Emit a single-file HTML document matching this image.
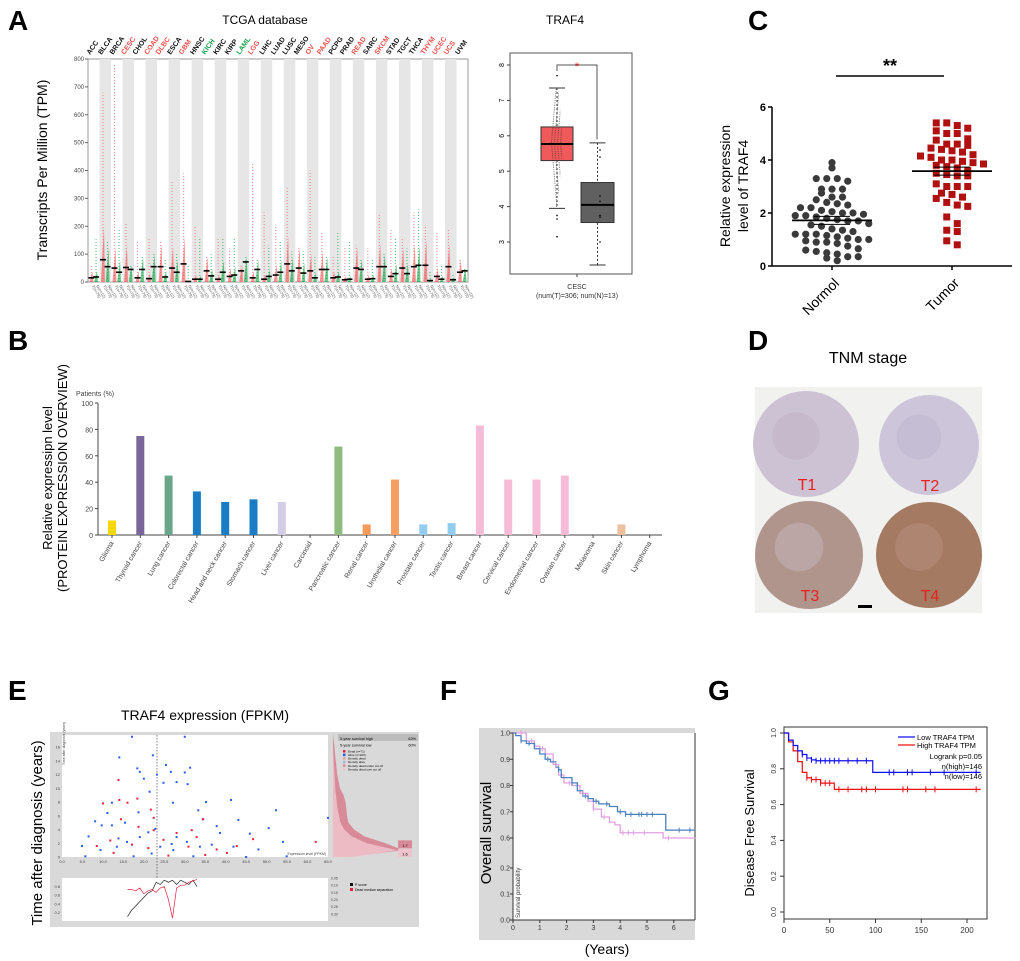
<!DOCTYPE html>
<html><head><meta charset="utf-8">
<style>
html,body{margin:0;padding:0;background:#fff;}
svg{display:block;font-family:"Liberation Sans",Arial,sans-serif;}
</style></head>
<body>
<svg id="fig" width="1020" height="961" viewBox="0 0 1020 961" xmlns="http://www.w3.org/2000/svg">
<g font-weight="bold" font-size="28" fill="#000">
<text x="8" y="30">A</text>
<text x="8" y="350">B</text>
<text x="748" y="30">C</text>
<text x="748" y="350">D</text>
<text x="8" y="700">E</text>
<text x="440" y="700">F</text>
<text x="708" y="700">G</text>
</g>
<g id="pa"></g>
<g id="pa2"></g>
<g id="pb"></g>
<g id="pc"></g>
<g id="pd"></g>
<g id="pe"></g>
<g id="pf"></g>
<g id="pg"></g>
</svg>
<script>
// ---------- data ----------
const cancerTypes=["ACC","BLCA","BRCA","CESC","CHOL","COAD","DLBC","ESCA","GBM","HNSC","KICH","KIRC","KIRP","LAML","LGG","LIHC","LUAD","LUSC","MESO","OV","PAAD","PCPG","PRAD","READ","SARC","SKCM","STAD","TGCT","THCA","THYM","UCEC","UCS","UVM"];
const cancerColors=["k","k","k","r","k","r","r","k","r","k","g","k","k","g","r","k","k","k","k","r","r","k","k","r","k","r","k","k","k","r","r","r","k"];
const tumorMedian=[15,80,50,52,15,12,55,50,65,10,40,10,20,40,15,10,25,65,50,40,45,15,8,50,10,55,20,50,55,60,20,55,35];
const normalMedian=[18,55,35,45,45,55,18,35,2,10,22,35,25,72,45,20,35,40,32,15,45,18,10,45,12,55,30,30,60,5,10,8,40];
const tumorMax=[60,680,780,210,150,160,150,360,390,200,90,160,120,60,430,250,200,340,130,400,180,90,130,130,120,240,190,160,250,200,180,190,80];
const normalMax=[160,150,190,60,90,100,80,100,60,160,100,160,160,90,80,130,150,110,110,90,90,180,150,80,80,100,160,120,260,40,60,30,50];
const aTicks=[0,100,200,300,400,500,600,700,800];
const boxTumor={lo:3.95,q1:5.3,med:5.77,q3:6.25,hi:7.35};
const boxNormal={lo:2.35,q1:3.55,med:4.05,q3:4.68,hi:5.8};
const tumorOutliers=[3.15,3.65,3.75,7.7];
const normalPoints=[5.4,4.3,4.15,3.75,3.7,5.6,3.0];
const boxTicks=[3,4,5,6,7,8];

const bCategories=["Glioma","Thyroid cancer","Lung cancer","Colorectal cancer","Head and neck cancer","Stomach cancer","Liver cancer","Carcinoid","Pancreatic cancer","Renal cancer","Urothelial cancer","Prostate cancer","Testis cancer","Breast cancer","Cervical cancer","Endometrial cancer","Ovarian cancer","Melanoma","Skin cancer","Lymphoma"];
const bValues=[11,75,45,33,25,27,25,0,67,8,42,8,9,83,42,42,45,0,8,0];
const bColors=["#f5d800","#7b6699","#6aa58a","#1a7cc4","#1a7cc4","#1a7cc4","#d2cce6","#ccc","#8dbb80","#f59a5a","#f5a060","#92cdee","#92cdee","#f6bcd7","#f6bcd7","#f6bcd7","#f6bcd7","#ccc","#edc0a0","#ccc"];
const bTicks=[0,20,40,60,80,100];

const cNormal=[3.9,3.7,3.3,3.3,3.3,3.2,2.9,2.9,2.9,2.75,2.6,2.6,2.5,2.4,2.35,2.3,2.2,2.2,2.1,2.05,2.0,2.0,1.95,1.9,1.9,1.85,1.8,1.75,1.7,1.7,1.6,1.55,1.5,1.4,1.35,1.3,1.2,1.2,1.2,1.15,1.1,1.05,1.0,1.0,0.95,0.9,0.9,0.85,0.75,0.65,0.6,0.55,0.5,0.45,0.35,0.35,0.3,0.2];
const cTumor=[5.4,5.4,5.3,5.2,5.1,5.0,5.0,4.8,4.75,4.6,4.6,4.55,4.45,4.4,4.35,4.3,4.2,4.15,4.1,4.0,4.0,3.95,3.9,3.85,3.8,3.75,3.7,3.6,3.5,3.45,3.4,3.4,3.1,3.0,3.0,3.0,2.75,2.7,2.6,2.55,2.4,2.3,2.25,1.85,1.6,1.35,1.3,0.95,0.8];
const cTicks=[0,2,4,6];

const eAliveExpr=[17.1,30,22.2,14,25.4,31.3,18.4,19,26.6,30,23.2,20,24.8,28,30.7,21.4,41.3,35.2,27.1,12.2,52.3,33.3,11.1,18.7,65,43.1,8.1,34.4,15.4,9.7,50.5,22.8,37.8,12.2,45.9,38.6,6.5,19,28,54,4.9,41.9,48,33.7,13.4,24,15.9,30.5,9.4,27.2,21.9,45,54.9,5.7,17.5,32.1,13.8,21.1,26.8,36.6];
const eAliveTime=[17.5,17.5,14.8,14.5,13.4,13,12.9,12.4,12.4,12.3,12,11.4,10.8,10.9,10.6,9.5,8.3,8,7.9,7.9,6.8,6.8,6.4,6.5,5.7,5.4,5.2,5.5,5,4.6,4.2,4.1,4.5,4.6,3.4,3.5,3,2.9,2.9,2.2,1.6,1.5,1.1,1.5,1.5,1.5,2.2,2.2,1,1,0.5,0,0.1,0.1,0.1,0.1,2.7,3.6,1.9,1.8];
const eDeadExpr=[13.8,10,14,18.4,16,21.7,14.4,22.4,34.5,18.7,28,32.9,46.7,62,42.7,8.5,11.8,24.8,37.8,40.3,21.1,17.1,30.9,12.6,26,35,22.4,31.7];
const eDeadTime=[11.2,7.8,8.3,8.5,7.9,6.9,5.5,5.7,5.5,4.4,3.5,2.9,2.6,2.2,1.6,1.6,2.4,2.5,1.1,0.6,1.3,1.8,1.5,0.6,0.2,0.3,3.9,3.9];
const eXTicks=[0,5,10,15,20,25,30,35,40,45,50,55,60,65];
const eYTicks=[0,2,4,6,8,10,12,14,16];
const ePExpr=[16,17,18,19,20,21,22,23,24,25,26,27,28,29,30,31,32,33];
const ePScore=[0.1,0.25,0.35,0.45,0.55,0.65,0.7,0.9,0.85,0.95,0.9,0.95,0.85,0.95,0.9,0.85,0.95,0.8];
const eMedSep=[0.13,0.13,0.14,0.12,0.16,0.14,0.13,0.15,0.12,0.11,0.2,0.33,0.12,0.1,0.1,0.08,0.07,0.06];
const densTimes=[0,1,2,3,4,5,6,7,8,9,10,12,14,16,18];
const densDead=[0.2,1.0,0.75,0.45,0.3,0.22,0.2,0.19,0.18,0.15,0.1,0.06,0.04,0.02,0];
const densOver=[0.3,0.85,0.45,0.25,0.15,0.1,0.08,0.06,0.05,0.04,0.03,0.02,0.01,0,0];

const fBlueT=[0,0.1,0.3,0.5,0.8,1.0,1.2,1.4,1.6,1.7,1.8,2.0,2.2,2.4,2.6,2.8,3.0,3.2,3.6,3.9,4.2,5.0,5.6,5.7,6.8];
const fBlueS=[1,0.99,0.97,0.96,0.94,0.92,0.9,0.89,0.87,0.86,0.83,0.83,0.81,0.78,0.76,0.75,0.74,0.73,0.72,0.7,0.69,0.69,0.69,0.63,0.63];
const fPinkT=[0,0.2,0.5,0.8,1.0,1.2,1.5,1.7,1.9,2.2,2.5,2.8,3.0,3.3,3.6,3.8,4.0,4.5,5.5,5.6,6.8];
const fPinkS=[1,1,0.97,0.95,0.94,0.92,0.88,0.84,0.81,0.8,0.77,0.74,0.71,0.68,0.66,0.65,0.62,0.62,0.62,0.6,0.6];
const fBlueCens=[0.3,0.6,1.3,1.7,2.2,2.7,3.1,3.5,4.0,4.2,4.4,4.7,4.8,5.0,5.2,6.2,6.6];
const fPinkCens=[0.3,0.7,1.1,1.6,2.1,2.6,3.0,3.4,4.1,4.3,4.5,4.9,5.8];
const fYTicks=[0.0,0.1,0.2,0.6,0.7,0.8,0.9,1.0];
const fXTicks=[0,1,2,3,4,5,6];

const gLowT=[0,5,10,15,20,25,30,35,97,215];
const gLowS=[1,0.96,0.93,0.9,0.88,0.86,0.85,0.845,0.78,0.78];
const gHighT=[0,5,10,15,20,25,30,40,55,215];
const gHighS=[1,0.95,0.9,0.84,0.78,0.75,0.74,0.72,0.685,0.685];
const gLowCens=[20,25,30,35,40,45,50,55,60,70,80,90,115,120,135,140,160,175,210];
const gHighCens=[25,30,35,40,45,50,60,70,85,90,100,130,135,155,165,210];
const gXTicks=[0,50,100,150,200];
const gYTicks=[0,0.2,0.4,0.6,0.8,1.0];

// ---------- helpers ----------
const NS="http://www.w3.org/2000/svg";
function mk(tag,attrs,parent,txt){const e=document.createElementNS(NS,tag);for(const k in attrs)e.setAttribute(k,attrs[k]);if(txt!==undefined)e.textContent=txt;parent.appendChild(e);return e;}
function stepPath(ts,ss,fx,fy){let d="M"+fx(ts[0])+","+fy(ss[0]);for(let i=1;i<ts.length;i++){d+=" H"+fx(ts[i])+" V"+fy(ss[i]);}return d;}
function survAt(ts,ss,t){let s=ss[0];for(let i=0;i<ts.length;i++){if(ts[i]<=t)s=ss[i];}return s;}

// ---------- Panel A ----------
(function(){
const g=document.getElementById('pa');
const X0=88,X1=468,Y0=282,Y1=59;
const w=(X1-X0)/cancerTypes.length;
const y=v=>Y0-(v/800)*(Y0-Y1);
let t=mk('text',{x:265,y:24,'font-size':12,'text-anchor':'middle'},g,'TCGA database');


let yl=mk('text',{x:0,y:0,'font-size':14,'text-anchor':'middle',transform:'translate(47,170) rotate(-90)'},g,'Transcripts Per Million (TPM)');


mk('rect',{x:X0,y:Y1,width:X1-X0,height:Y0-Y1,fill:'#fff',stroke:'#999'},g);
cancerTypes.forEach((c,i)=>{
 const cx=X0+i*w;
 if(i%2===1){const b=mk('rect',{x:cx,y:Y1,width:w,height:Y0-Y1,fill:'#e6e6e6'},g);}
 const col=cancerColors[i]==='r'?'#f0504a':cancerColors[i]==='g'?'#1aa04a':'#111';
 const lab=mk('text',{x:0,y:0,'font-size':7,'font-weight':'bold',fill:col,transform:`translate(${cx+2},${Y1-4}) rotate(-55)`},g,c);
 
 
 const tx=cx+w*0.3, nx=cx+w*0.7;
 const tl=mk('line',{x1:tx,x2:tx,y1:Y0,y2:y(tumorMax[i]),stroke:'#f07070','stroke-width':1.2,'stroke-dasharray':'1 2',opacity:0.7},g);
 
 
 mk('path',{d:`M${tx-2},${Y0} L${tx+2},${Y0} L${tx+1},${y(Math.min(tumorMax[i],tumorMedian[i]*2.5))} Z`,fill:'#f05050',opacity:0.6},g);
 const nl=mk('line',{x1:nx,x2:nx,y1:Y0,y2:y(normalMax[i]),stroke:'#20b050','stroke-width':1.2,'stroke-dasharray':'1 2',opacity:0.7},g);
 
 
 mk('path',{d:`M${nx-2},${Y0} L${nx+2},${Y0} L${nx+1},${y(Math.min(normalMax[i],normalMedian[i]*2.2))} Z`,fill:'#10a040',opacity:0.6},g);
 const tm=mk('line',{x1:tx-3,x2:tx+3,y1:y(tumorMedian[i]),y2:y(tumorMedian[i]),stroke:'#000','stroke-width':1.6},g);
 
 
 const nm=mk('line',{x1:nx-3,x2:nx+3,y1:y(normalMedian[i]),y2:y(normalMedian[i]),stroke:'#000','stroke-width':1.6},g);
 
 
 mk('text',{x:0,y:0,'font-size':4,fill:'#555',transform:`translate(${tx},${Y0+4}) rotate(60)`},g,'T(n=79)');
 mk('text',{x:0,y:0,'font-size':4,fill:'#555',transform:`translate(${nx},${Y0+4}) rotate(60)`},g,'N(n=12)');
});
aTicks.forEach(v=>{mk('line',{x1:X0-3,x2:X0,y1:y(v),y2:y(v),stroke:'#666'},g);const tk=mk('text',{x:X0-4,y:y(v)+2,'font-size':6,'text-anchor':'end',fill:'#444'},g,v);});
})();

// ---------- Panel A box ----------
(function(){
const g=document.getElementById('pa2');
const X0=510,X1=632,Y0=274,Y1=53;
const y=v=>65+(8-v)*35.4;
let t=mk('text',{x:565,y:24,'font-size':12,'text-anchor':'middle'},g,'TRAF4');


mk('rect',{x:X0,y:Y1,width:X1-X0,height:Y0-Y1,fill:'#fff',stroke:'#555'},g);
boxTicks.forEach(v=>{mk('line',{x1:X0-3,x2:X0,y1:y(v),y2:y(v),stroke:'#444'},g);mk('text',{x:0,y:0,'font-size':7,'text-anchor':'middle',transform:`translate(${X0-6},${y(v)}) rotate(-90)`},g,v);});
function box(b,x0,x1,fill,name){
 const cx=(x0+x1)/2;
 mk('line',{x1:cx,x2:cx,y1:y(b.hi),y2:y(b.lo),stroke:'#333','stroke-dasharray':'2 2'},g);
 mk('line',{x1:cx-8,x2:cx+8,y1:y(b.hi),y2:y(b.hi),stroke:'#333'},g);
 mk('line',{x1:cx-8,x2:cx+8,y1:y(b.lo),y2:y(b.lo),stroke:'#333'},g);
 const r=mk('rect',{x:x0,y:y(b.q3),width:x1-x0,height:y(b.q1)-y(b.q3),fill:fill,stroke:'#333'},g);
 
 
 mk('line',{x1:x0,x2:x1,y1:y(b.med),y2:y(b.med),stroke:'#000','stroke-width':2},g);
}
box(boxTumor,541,573,'#f05a5a','tumor-box');
box(boxNormal,581,614,'#606060','normal-box');
for(let v=4.0;v<=7.3;v+=0.05){const d=Math.abs(v-5.8);const wdt=Math.max(2,12-d*6);mk('line',{x1:557-wdt/2,x2:557+wdt/2,y1:y(v),y2:y(v),stroke:'#222','stroke-width':0.7,'stroke-dasharray':'1 2',opacity:0.7},g);}
tumorOutliers.forEach(v=>mk('circle',{cx:557,cy:y(v),r:0.8,fill:'#000'},g));
normalPoints.forEach(v=>mk('circle',{cx:600,cy:y(v),r:0.8,fill:'#000'},g));
mk('path',{d:`M557,${y(8)+6} V${y(8)} H597 V${y(5.9)}`,fill:'none',stroke:'#555'},g);
let s=mk('text',{x:577,y:y(8)+5,'font-size':11,fill:'#e02020','text-anchor':'middle'},g,'*');


mk('line',{x1:577,x2:577,y1:Y0,y2:Y0+3,stroke:'#444'},g);
let l1=mk('text',{x:577,y:289,'font-size':7,'text-anchor':'middle',fill:'#333'},g,'CESC');


mk('text',{x:577,y:298,'font-size':7,'text-anchor':'middle',fill:'#333'},g,'(num(T)=306; num(N)=13)');
})();

// ---------- Panel B ----------
(function(){
const g=document.getElementById('pb');
const X0=98,Y0=535,Y1=403,step=28.3,first=112;
const y=v=>Y0-(v/100)*(Y0-Y1);
let t=mk('text',{x:0,y:0,'font-size':13,'text-anchor':'middle',transform:'translate(52,478) rotate(-90)'},g,'Relative expressipn level');


mk('text',{x:0,y:0,'font-size':13,'text-anchor':'middle',transform:'translate(67,478) rotate(-90)'},g,'(PROTEIN EXPRESSION OVERVIEW)');
mk('text',{x:76,y:396,'font-size':7,fill:'#444'},g,'Patients (%)');
mk('line',{x1:X0,x2:X0,y1:Y1,y2:Y0,stroke:'#444'},g);
mk('line',{x1:X0,x2:662,y1:Y0,y2:Y0,stroke:'#444'},g);
bTicks.forEach(v=>{mk('line',{x1:X0-3,x2:X0,y1:y(v),y2:y(v),stroke:'#444'},g);const tk=mk('text',{x:X0-5,y:y(v)+3,'font-size':7,'text-anchor':'end',fill:'#444'},g,v);});
bCategories.forEach((c,i)=>{
 const cx=first+i*step;
 if(bValues[i]>0){const r=mk('rect',{x:cx-4,y:y(bValues[i]),width:8,height:Y0-y(bValues[i]),fill:bColors[i]},g);}
 mk('line',{x1:cx,x2:cx,y1:Y0,y2:Y0+3,stroke:'#444'},g);
 const l=mk('text',{x:0,y:0,'font-size':7,'text-anchor':'end',fill:'#444',transform:`translate(${cx+2},${Y0+8}) rotate(-60)`},g,c);
 
 
});
})();

// ---------- Panel C ----------
(function(){
const g=document.getElementById('pc');
const X0=772,X1=1012,Y0=266,Y1=107;
const y=v=>Y0-(v/6)*(Y0-Y1);
mk('line',{x1:X0,x2:X0,y1:Y1,y2:Y0,stroke:'#000','stroke-width':1.5},g);
mk('line',{x1:X0,x2:X1,y1:Y0,y2:Y0,stroke:'#000','stroke-width':1.5},g);
cTicks.forEach(v=>{mk('line',{x1:X0-4,x2:X0,y1:y(v),y2:y(v),stroke:'#000','stroke-width':1.5},g);const tk=mk('text',{x:X0-6,y:y(v)+4,'font-size':11,'font-weight':'bold','text-anchor':'end'},g,v);});
let t1=mk('text',{x:0,y:0,'font-size':14,'text-anchor':'middle',transform:'translate(730,186) rotate(-90)'},g,'Relative expression');


mk('text',{x:0,y:0,'font-size':14,'text-anchor':'middle',transform:'translate(748,186) rotate(-90)'},g,'level of TRAF4');
function swarm(vals,cx,color,shape,name){
 const bins={};
 vals.forEach(v=>{const k=Math.floor(v/0.32);(bins[k]=bins[k]||[]).push(v);});
 Object.keys(bins).forEach(k=>{
  const arr=bins[k];const n=arr.length;
  arr.forEach((v,i)=>{
   const px=cx+(i-(n-1)/2)*10.5,py=y(v);
   let m;
   if(shape==='c')m=mk('circle',{cx:px,cy:py,r:3.6,fill:color},g);
   else m=mk('rect',{x:px-3.5,y:py-3.5,width:7,height:7,fill:color},g);
   
   
  });
 });
 const mean=vals.reduce((a,b)=>a+b,0)/vals.length;
 const ml=mk('line',{x1:cx-40,x2:cx+40,y1:y(mean),y2:y(mean),stroke:'#000','stroke-width':1.8},g);
 
 
 mk('line',{x1:cx-18,x2:cx+18,y1:y(mean)-4,y2:y(mean)-4,stroke:'#000','stroke-width':1},g);
 mk('line',{x1:cx-18,x2:cx+18,y1:y(mean)+4,y2:y(mean)+4,stroke:'#000','stroke-width':1},g);
}
swarm(cNormal,832,'#3a3a3a','c','normal-point');
swarm(cTumor,952,'#b01010','s','tumor-point');
[[832,'Normol'],[952,'Tumor']].forEach(([x,s])=>{mk('line',{x1:x,x2:x,y1:Y0,y2:Y0+4,stroke:'#000','stroke-width':1.5},g);const l=mk('text',{x:0,y:0,'font-size':14,'text-anchor':'end',transform:`translate(${x+8},${Y0+18}) rotate(-45)`},g,s);});
mk('line',{x1:836,x2:944,y1:76,y2:76,stroke:'#000','stroke-width':1.5},g);
let st=mk('text',{x:890,y:72,'font-size':18,'font-weight':'bold','text-anchor':'middle'},g,'**');


})();

// ---------- Panel D ----------
(function(){
const g=document.getElementById('pd');
let t=mk('text',{x:868,y:363,'font-size':16,'text-anchor':'middle'},g,'TNM stage');


mk('rect',{x:755,y:387,width:227,height:226,fill:'#f1f1f0'},g);
const cores=[[806,444,53,'#cdc2d3','#bfb0c4','T1'],[929,445,50,'#cdc6da','#bdb4cc','T2'],[809,555,54,'#b0958d','#c5b6bd','T3'],[929,555,53,'#a57a62','#b89080','T4']];
cores.forEach(c=>{
 const ci=mk('circle',{cx:c[0],cy:c[1],r:c[2],fill:c[3]},g);
 
 
 mk('circle',{cx:c[0]-10,cy:c[1]-8,r:c[2]*0.45,fill:c[4],opacity:0.5},g);
 const l=mk('text',{x:c[0]+1,y:c[1]+46,'font-size':16,fill:'#e8201e','text-anchor':'middle'},g,c[5]);
 
 
});
const sb=mk('rect',{x:858,y:605,width:14,height:3,fill:'#000'},g);


})();

// ---------- Panel E ----------
(function(){
const g=document.getElementById('pe');
const X0=62,X1=328,Y0=857,Y1=735;
const x=v=>X0+(v/65)*(X1-X0);
const y=v=>Y0-v*6.87;
let t=mk('text',{x:205,y:720,'font-size':14,'text-anchor':'middle'},g,'TRAF4 expression (FPKM)');


let yl=mk('text',{x:0,y:0,'font-size':15,'text-anchor':'middle',transform:'translate(42,833) rotate(-90)'},g,'Time after diagnosis (years)');


mk('rect',{x:50,y:732,width:369,height:195,fill:'#d9d9d9'},g);
mk('rect',{x:X0,y:Y1,width:X1-X0,height:Y0-Y1,fill:'#fff'},g);
eYTicks.forEach(v=>{mk('text',{x:X0-2,y:y(v)+1.5,'font-size':4,'text-anchor':'end',fill:'#444'},g,v);});
eXTicks.forEach(v=>{mk('text',{x:x(v),y:Y0+6,'font-size':4,'text-anchor':'middle',fill:'#444'},g,v.toFixed(1));});
mk('text',{x:0,y:0,'font-size':3.5,fill:'#444',transform:`translate(${X0+3},${Y1+30}) rotate(-90)`},g,'Time after diagnosis (years)');
mk('text',{x:X1-2,y:Y0-2,'font-size':3.5,'text-anchor':'end',fill:'#444'},g,'Expression level (FPKM)');
mk('line',{x1:157,x2:157,y1:Y1,y2:921,stroke:'#333','stroke-dasharray':'1.5 1.5','stroke-width':0.6},g);
eAliveExpr.forEach((v,i)=>{const p=mk('rect',{x:x(v)-1,y:y(eAliveTime[i])-1,width:2,height:2,fill:'#2a5cf0'},g);});
eDeadExpr.forEach((v,i)=>{const p=mk('rect',{x:x(v)-1,y:y(eDeadTime[i])-1,width:2,height:2,fill:'#e8203c'},g);});
let d1="M333,"+y(densTimes[0]);densTimes.forEach((tt,i)=>{d1+=" L"+(333+densDead[i]*70)+","+y(tt);});d1+=" L333,"+y(18)+" Z";
const dd=mk('path',{d:d1,fill:'#d98a99'},g);


let d2="M333,"+y(densTimes[0]);densTimes.forEach((tt,i)=>{d2+=" L"+(333+densOver[i]*75)+","+y(tt);});d2+=" L333,"+y(18)+" Z";
const d2p=mk('path',{d:d2,fill:'#efc3cb',opacity:0.85},g);


mk('rect',{x:398,y:y(1.7)-5,width:14,height:8,fill:'#d98a99'},g);
mk('text',{x:405,y:y(1.7)+1.5,'font-size':4,'text-anchor':'middle'},g,'1.7');
mk('rect',{x:398,y:y(0.9)-2,width:14,height:8,fill:'#efc3cb'},g);
mk('text',{x:405,y:y(0.9)+4.5,'font-size':4,'text-anchor':'middle'},g,'1.6');
mk('rect',{x:338,y:734,width:80,height:7,fill:'#bcbcbc'},g);
const leg=[['5-year survival high','63%',738.5],['5-year survival low','60%',745]];
leg.forEach(l=>{mk('text',{x:340,y:l[2]+1.5,'font-size':3.8},g,l[0]);mk('text',{x:416,y:l[2]+1.5,'font-size':3.8,'text-anchor':'end'},g,l[1]);});
const items=[['#e8203c','Dead (n=71)'],['#2a5cf0','Alive (n=220)'],['#e3a0ab','Density dead'],['#a8b4e8','Density alive'],['#d98a99','Density dead under cut off'],['#efc3cb','Density dead over cut off']];
items.forEach((it,i)=>{mk('rect',{x:343,y:750+i*3.6,width:2.5,height:2.5,fill:it[0]},g);const lt=mk('text',{x:348,y:752.4+i*3.6,'font-size':3},g,it[1]);});
const BY0=921,BY1=878;
const by=v=>BY0-(v/1.0)*(BY0-BY1);
const my=v=>BY1+((v-0.05)/0.3)*(BY0-BY1);
mk('rect',{x:X0,y:BY1,width:X1-X0,height:BY0-BY1,fill:'#fff'},g);
[0.2,0.4,0.6,0.8].forEach(v=>mk('text',{x:X0-2,y:by(v)+1.5,'font-size':4,'text-anchor':'end',fill:'#444'},g,v));
[0.05,0.1,0.15,0.2,0.25,0.3].forEach(v=>mk('text',{x:X1+3,y:my(v)+1.5,'font-size':3.5,fill:'#444'},g,v.toFixed(2)));
let pd="";ePExpr.forEach((v,i)=>{pd+=(i?" L":"M")+x(v)+","+by(ePScore[i]);});
const pl=mk('path',{d:pd,fill:'none',stroke:'#222','stroke-width':0.7},g);


let md="";ePExpr.forEach((v,i)=>{md+=(i?" L":"M")+x(v)+","+my(eMedSep[i]);});
const mlp=mk('path',{d:md,fill:'none',stroke:'#e8203c','stroke-width':0.7},g);


mk('rect',{x:350,y:883,width:3,height:3,fill:'#111'},g);mk('text',{x:355,y:885.8,'font-size':3.5},g,'P score');
mk('rect',{x:350,y:888,width:3,height:3,fill:'#e8203c'},g);mk('text',{x:355,y:890.8,'font-size':3.5},g,'Dead median separation');
})();

// ---------- Panel F ----------
(function(){
const g=document.getElementById('pf');
const X0=513,X1=695,YT=733;
const x=v=>X0+v*26.8;
const y=v=>v>=0.6?YT+(1-v)*262.5:920-v*260;
mk('rect',{x:479,y:728,width:216,height:212,fill:'#d9d9d9'},g);
mk('rect',{x:X0,y:YT,width:X1-X0,height:920-YT,fill:'#fff'},g);
mk('line',{x1:X0,x2:X0,y1:YT,y2:920,stroke:'#333'},g);
mk('line',{x1:X0,x2:X1,y1:920,y2:920,stroke:'#333'},g);
mk('line',{x1:X1,x2:X1,y1:YT,y2:920,stroke:'#333'},g);
fYTicks.forEach(v=>{mk('line',{x1:X0-3,x2:X0,y1:y(v),y2:y(v),stroke:'#333'},g);const tk=mk('text',{x:X0-3,y:y(v)+2.5,'font-size':7,'text-anchor':'end',fill:'#333'},g,v.toFixed(1));});
fXTicks.forEach(v=>{mk('line',{x1:x(v),x2:x(v),y1:920,y2:923,stroke:'#333'},g);mk('text',{x:x(v),y:930,'font-size':7,'text-anchor':'middle',fill:'#333'},g,v);});
mk('text',{x:0,y:0,'font-size':6,fill:'#333',transform:`translate(${X0+7},918) rotate(-90)`},g,'Survival probability');
let yl=mk('text',{x:0,y:0,'font-size':15,'text-anchor':'middle',transform:'translate(491,833) rotate(-90)'},g,'Overall survival');


let xl=mk('text',{x:607,y:954,'font-size':14,'text-anchor':'middle'},g,'(Years)');


const pk=mk('path',{d:stepPath(fPinkT,fPinkS,x,y),fill:'none',stroke:'#e0a0e0','stroke-width':1.3},g);


const bl=mk('path',{d:stepPath(fBlueT,fBlueS,x,y),fill:'none',stroke:'#4a80c0','stroke-width':1.3},g);


fPinkCens.forEach(t=>mk('line',{x1:x(t),x2:x(t),y1:y(survAt(fPinkT,fPinkS,t))-2.5,y2:y(survAt(fPinkT,fPinkS,t))+2.5,stroke:'#e0a0e0'},g));
fBlueCens.forEach(t=>mk('line',{x1:x(t),x2:x(t),y1:y(survAt(fBlueT,fBlueS,t))-2.5,y2:y(survAt(fBlueT,fBlueS,t))+2.5,stroke:'#4a80c0'},g));
})();

// ---------- Panel G ----------
(function(){
const g=document.getElementById('pg');
const X0=784,X1=987,YT=727,YB=919;
const x=v=>X0+v*0.915;
const y=v=>912-v*179;
mk('rect',{x:X0,y:YT,width:X1-X0,height:YB-YT,fill:'#fff',stroke:'#333'},g);
gYTicks.forEach(v=>{mk('line',{x1:X0-4,x2:X0,y1:y(v),y2:y(v),stroke:'#333'},g);const tk=mk('text',{x:0,y:0,'font-size':7,'text-anchor':'middle',fill:'#333',transform:`translate(${X0-8},${y(v)}) rotate(-90)`},g,v.toFixed(1));});
gXTicks.forEach(v=>{mk('line',{x1:x(v),x2:x(v),y1:YB,y2:YB+4,stroke:'#333'},g);const tk=mk('text',{x:x(v),y:YB+14,'font-size':8,'text-anchor':'middle',fill:'#333'},g,v);});
let yl=mk('text',{x:0,y:0,'font-size':13,'text-anchor':'middle',transform:'translate(754,833) rotate(-90)'},g,'Disease Free Survival');


const r=mk('path',{d:stepPath(gHighT,gHighS,x,y),fill:'none',stroke:'#f01010','stroke-width':1.2},g);


const b=mk('path',{d:stepPath(gLowT,gLowS,x,y),fill:'none',stroke:'#1010f0','stroke-width':1.2},g);


gHighCens.forEach(t=>mk('line',{x1:x(t),x2:x(t),y1:y(survAt(gHighT,gHighS,t))-3,y2:y(survAt(gHighT,gHighS,t))+3,stroke:'#f01010'},g));
gLowCens.forEach(t=>mk('line',{x1:x(t),x2:x(t),y1:y(survAt(gLowT,gLowS,t))-3,y2:y(survAt(gLowT,gLowS,t))+3,stroke:'#1010f0'},g));
mk('line',{x1:898,x2:915,y1:737,y2:737,stroke:'#1010f0','stroke-width':1.3},g);
let l1=mk('text',{x:917,y:740,'font-size':7.5},g,'Low TRAF4 TPM');


mk('line',{x1:898,x2:915,y1:745,y2:745,stroke:'#f01010','stroke-width':1.3},g);
let l2=mk('text',{x:917,y:748,'font-size':7.5},g,'High TRAF4 TPM');


mk('text',{x:982,y:759,'font-size':7.5,'text-anchor':'end'},g,'Logrank p=0.05');
mk('text',{x:982,y:769,'font-size':7.5,'text-anchor':'end'},g,'n(high)=146');
mk('text',{x:982,y:779,'font-size':7.5,'text-anchor':'end'},g,'n(low)=146');
})();
</script>
</body></html>
